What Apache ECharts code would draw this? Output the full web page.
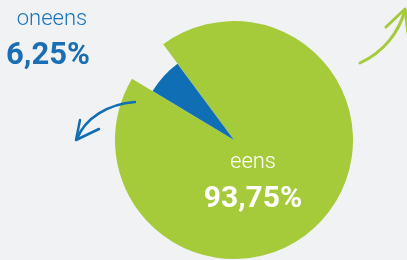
<!DOCTYPE html>
<html>
<head>
<meta charset="utf-8">
<script src="https://cdn.jsdelivr.net/npm/echarts@6/dist/echarts.min.js"></script>
<style>
  html, body { margin: 0; padding: 0; background: #f1f2f4; }
  #chart { width: 407px; height: 260px; }
</style>
</head>
<body>
<div id="chart"></div>
<script>
// data
const categories = ['oneens', 'eens']
const values = [6.25, 93.75]
const colors = ['#106eb4', '#a5cb3b']

const fmt = v => v.toFixed(2).replace('.', ',') + '%'

const chart = echarts.init(document.getElementById('chart'))

const center = [234, 140]
const startAngle = 149

chart.setOption({
  backgroundColor: '#f1f2f4',
  animation: false,
  series: [
    {
      // outer ring: green full radius, blue slot left empty
      type: 'pie',
      center: center,
      radius: [0, 119],
      startAngle: startAngle,
      silent: true,
      label: { show: false },
      labelLine: { show: false },
      data: categories.map((name, i) => ({
        name,
        value: values[i],
        itemStyle: { color: i === 1 ? colors[1] : 'rgba(0,0,0,0)' }
      }))
    },
    {
      // inner: blue slice with smaller radius
      type: 'pie',
      center: center,
      radius: [0, 95],
      startAngle: startAngle,
      silent: true,
      label: { show: false },
      labelLine: { show: false },
      data: categories.map((name, i) => ({
        name,
        value: values[i],
        itemStyle: { color: i === 0 ? colors[0] : 'rgba(0,0,0,0)' }
      }))
    }
  ],
  graphic: [
    // labels
    {
      type: 'text', x: 52, y: 19.5, z: 100,
      style: { text: categories[0], font: '300 22px Roboto', fill: '#1a74ba', align: 'center', verticalAlign: 'middle' }
    },
    {
      type: 'text', x: 48, y: 56.5, z: 100,
      style: { text: fmt(values[0]), font: 'bold 31px Roboto', fill: '#1a6fb4', align: 'center', verticalAlign: 'middle' }
    },
    {
      type: 'text', x: 253, y: 162.5, z: 100,
      style: { text: categories[1], font: '300 22px Roboto', fill: '#ffffff', align: 'center', verticalAlign: 'middle' }
    },
    {
      type: 'text', x: 253, y: 199.5, z: 100,
      style: { text: fmt(values[1]), font: 'bold 30px Roboto', fill: '#ffffff', align: 'center', verticalAlign: 'middle' }
    },
    // blue arrow
    {
      type: 'bezierCurve', z: 100,
      shape: { x1: 135, y1: 102, cpx1: 108, cpy1: 104, cpx2: 85, cpy2: 118, x2: 77, y2: 139 },
      style: { stroke: colors[0], lineWidth: 2.5, fill: null, lineCap: 'round' }
    },
    {
      type: 'polyline', z: 100,
      shape: { points: [[80, 120], [76, 140], [99, 129]] },
      style: { stroke: colors[0], lineWidth: 2.5, fill: null, lineCap: 'round', lineJoin: 'round' }
    },
    // green arrow
    {
      type: 'bezierCurve', z: 100,
      shape: { x1: 360, y1: 63, cpx1: 384, cpy1: 52, cpx2: 399, cpy2: 32, x2: 405, y2: 10 },
      style: { stroke: colors[1], lineWidth: 3, fill: null, lineCap: 'round' }
    },
    {
      type: 'polyline', z: 100,
      shape: { points: [[386, 27], [405, 9], [408, 33]] },
      style: { stroke: colors[1], lineWidth: 3, fill: null, lineCap: 'round', lineJoin: 'round' }
    }
  ]
})
</script>
</body>
</html>
